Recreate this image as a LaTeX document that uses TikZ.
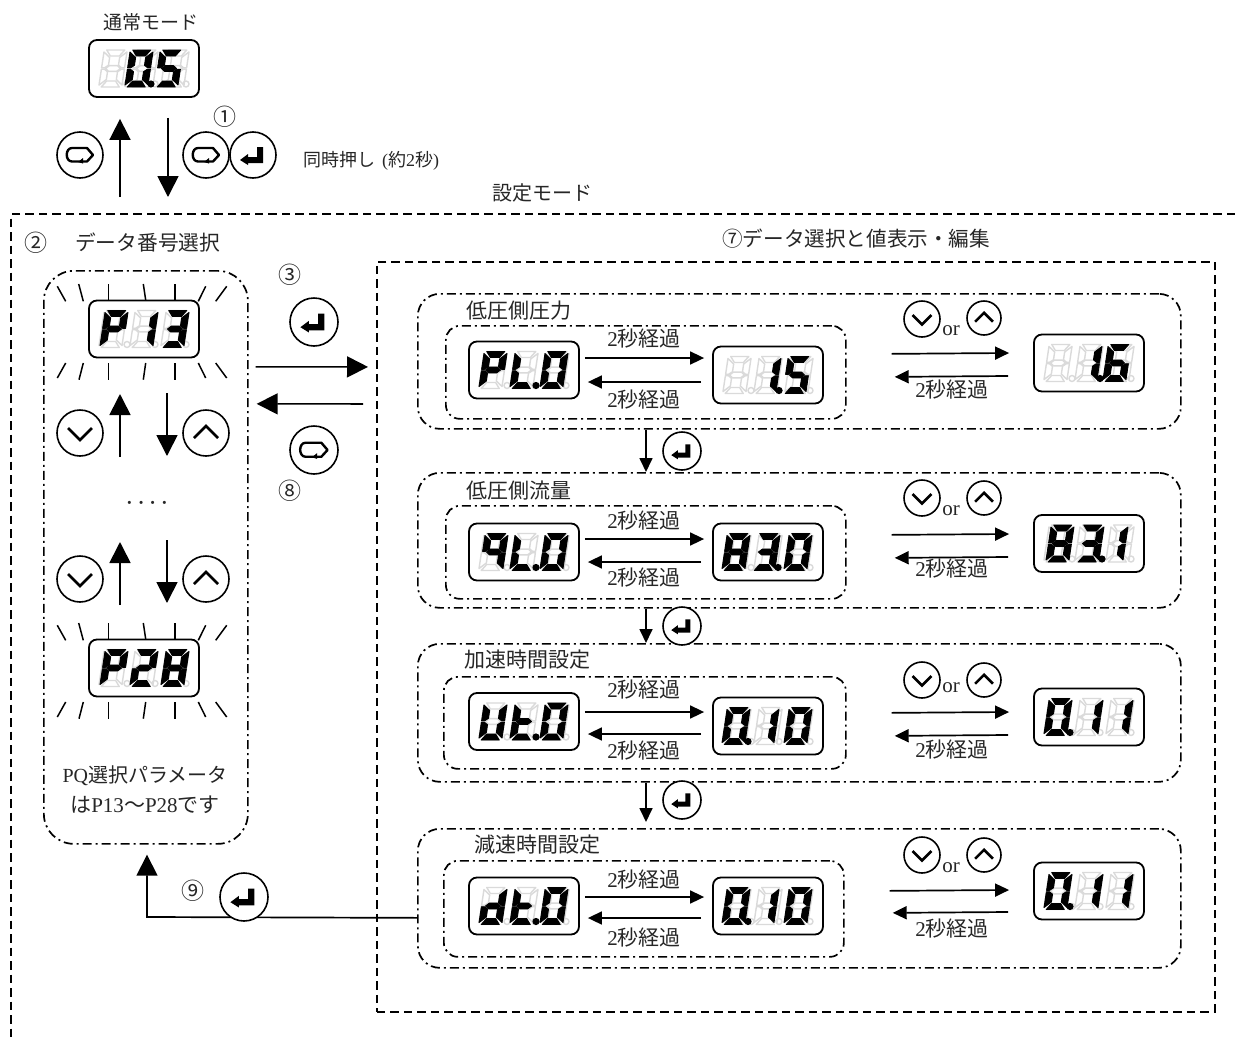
\documentclass[tikz,border=0pt]{standalone}
\usepackage{fontspec}
\usetikzlibrary{arrows.meta,calc}
\setmainfont{Liberation Serif}
\newfontfamily\jp{Noto Sans CJK JP}
% ---- seven-segment glyphs
\newcommand\defseg[2]{\expandafter\def\csname lcdseg#1\endcsname##1{\path[##1] #2 -- cycle;}}
\defseg{a}{(-9,-18.5)--(9,-18.5)--(4.5,-12.5)--(-4.5,-12.5)}
\defseg{d}{(-9,18.5)--(9,18.5)--(4.5,12.5)--(-4.5,12.5)}
\defseg{f}{(-11.5,-16.5)--(-5,-11)--(-5,-3.2)--(-8.5,-.7)--(-11.5,-.7)}
\defseg{b}{(11.5,-16.5)--(5,-11)--(5,-3.2)--(8.5,-.7)--(11.5,-.7)}
\defseg{e}{(-11.5,16.5)--(-5,11)--(-5,3.2)--(-8.5,.7)--(-11.5,.7)}
\defseg{c}{(11.5,16.5)--(5,11)--(5,3.2)--(8.5,.7)--(11.5,.7)}
\defseg{g}{(-7.5,0)--(-4,-2.9)--(4,-2.9)--(7.5,0)--(4,2.9)--(-4,2.9)}
\def\glyphP{a,b,e,f,g}
\def\glyphL{d,e,f}
\def\glyphO{a,b,c,d,e,f}
\def\glyphI{b,c}
\def\glyphB{a,b,d,e,g}
\def\glyphC{a,b,c,d,g}
\def\glyphS{a,c,d,f,g}
\def\glyphG{a,c,d,e,f,g}
\def\glyphH{a,b,c,d,e,f,g}
\def\glyphQ{a,b,c,f,g}
\def\glyphT{d,e,f,g}
\def\glyphU{b,c,d,e,f}
\def\glyphD{b,c,d,e,g}
\tikzset{
  lcdbox/.style={draw,line width=1.8pt,rounded corners=8pt,minimum width=110pt,minimum height=57pt,inner sep=0pt,fill=white},
  ghostseg/.style={draw=lcdghost,line width=1.4pt,line join=round},
  blackseg/.style={fill=black,draw=black,line width=.9pt,line join=round},
  panel/.style={draw,line width=1.7pt,rounded corners=22pt,dash pattern=on 9pt off 4pt on 2pt off 4pt,anchor=north west,inner sep=0pt},
  frameline/.style={draw,line width=1.8pt,dash pattern=on 8.5pt off 5pt},
  innerframe/.style={frameline,anchor=north west,inner sep=0pt},
  btn/.style={draw,circle,line width=1.6pt,inner sep=0pt,fill=white},
  bigarr/.style={line width=1.7pt,-{Triangle[length=21pt,width=21pt]}},
  smallarr/.style={line width=1.7pt,-{Triangle[length=14pt,width=13pt]}},
  lbl/.style={inner sep=0pt,text=txt,font=\fontsize{21}{25}\selectfont},
  circnum/.style={inner sep=0pt,text=txt,font=\fontsize{23}{27}\selectfont},
  conn/.style={line width=1.7pt},
  ray/.style={line width=1.5pt}
}
\definecolor{lcdghost}{HTML}{DADADA}
\definecolor{txt}{HTML}{262626}
\newcommand\lcd[4]{%
  \node[lcdbox] (#1) at (#2,#3) {};
  \begin{scope}[shift={(#1.center)}]
    \foreach \dx/\ox in {-31/14,0/11,31/11}{
      \begin{scope}[shift={(\dx,0)},xslant=.15]
        \foreach \s in {a,b,c,d,e,f,g}{\csname lcdseg\s\endcsname{ghostseg}}
      \end{scope}
      \path[ghostseg] (\dx+\ox,15.5) circle (3);
    }
    \foreach \dx/\g/\dt in {#4}{
      \edef\seglist{\csname glyph\g\endcsname}
      \begin{scope}[shift={(\dx,0)},xslant=.15]
        \foreach \s in \seglist{\csname lcdseg\s\endcsname{blackseg}}
      \end{scope}
      \ifnum\dt=1 \fill (\dx+12,15.5) circle (3.6);\fi
    }
  \end{scope}}
\newcommand\btn[5]{%
  \node[btn,minimum size={2*#4 pt}] (#1) at (#2,#3) {};
  \begin{scope}[shift={(#1.center)},scale={#4/23}]
    \csname icon#5\endcsname
  \end{scope}}
\newcommand\iconenter{\fill (-13,5)--(-5,-1)--(-5,2)--(4,2)--(4,-8)--(10,-8)--(10,8)--(-5,8)--(-5,10)--cycle;}
\newcommand\iconreturn{\draw[line width=2.4pt,line join=round] (-8,-7)--(7,-7)--(13,0)--(7,6.5)--(-8,6.5) .. controls (-15,6.5) and (-15,-7) .. (-8,-7); \fill (-2,7)--(3,3)--(3,8.5)--cycle;}
\newcommand\icondown{\draw[line width=2.6pt,line join=miter] (-12,-5)--(0,7)--(12,-5);}
\newcommand\iconup{\draw[line width=2.6pt,line join=miter] (-12,5)--(0,-7)--(12,5);}
\newcommand\sectxt{{2}{\jp 秒経過}}
\newcommand\rays[1]{%
  \foreach \xa/\ya/\xb/\yb in {-86.7/-42.7/-78.3/-27.7,-65.3/-45/-60.7/-27.7,-35.7/-45/-35.7/-29,-.7/-45/1.7/-29,31/-45/31/-29,61.7/-42.7/54.3/-27.7,82.7/-42.7/71.7/-27.7,-78.3/34/-86.7/49,-60.7/34/-65/50.7,-35.7/34/-35.7/50.7,1.7/34/-.7/50.7,31/34/31/50.7,54.3/34/61.7/49,71.7/34/82.7/49}{
    \draw[ray] ($(#1.center)+(\xa,\ya)$) -- ($(#1.center)+(\xb,\yb)$);
  }}
\begin{document}
\begin{tikzpicture}[x=1pt,y=-1pt]
\useasboundingbox (0,0) rectangle (1235,1039);
% frames
\coordinate (oTL) at (11,214);
\coordinate (oTR) at (1235,214);
\coordinate (oBL) at (11,1039);
\draw[frameline] (oTR) -- (oTL) -- (oBL);
\node[innerframe,minimum width=838pt,minimum height=750pt] (edit) at (376,261) {};
\node[panel,rounded corners=30pt,minimum width=204pt,minimum height=573pt] (left) at (43,270) {};
% panels
\node[panel,minimum width=763pt,minimum height=135pt] (p1) at (417,293) {};
\node[panel,minimum width=763pt,minimum height=135pt] (p2) at (417,472) {};
\node[panel,minimum width=763pt,minimum height=138pt] (p3) at (417,643) {};
\node[panel,minimum width=763pt,minimum height=139pt] (p4) at (417,828) {};
\node[panel,rounded corners=14pt,minimum width=400pt,minimum height=93pt] (i1) at (445,325) {};
\node[panel,rounded corners=14pt,minimum width=400pt,minimum height=93pt] (i2) at (445,505) {};
\node[panel,rounded corners=14pt,minimum width=402pt,minimum height=92pt] (i3) at (443,676) {};
\node[panel,rounded corners=14pt,minimum width=400pt,minimum height=96pt] (i4) at (443,860) {};
% top
\node[lbl,font=\fontsize{19}{23}\selectfont] (tmode) at (151,22) {\jp 通常モード};
\lcd{n0}{144}{68.5}{-5/O/1,25/S/0}
\coordinate (ux) at (120,197);
\coordinate (dx) at (168,197);
\draw[bigarr] (ux) -- ($(ux |- n0.south)+(0,21)$);
\draw[bigarr] ($(dx |- n0.south)+(0,20)$) -- (dx);
\btn{b0}{80}{155}{23}{return}
\btn{b1}{206}{155}{23}{return}
\btn{b2}{253}{155}{23}{enter}
\node[circnum] (c1) at (225,117) {\jp ①};
\node[lbl,font=\fontsize{18}{22}\selectfont,anchor=west] (tsim) at (303,161) {\jp 同時押し\hspace{7pt}{\rmfamily(}約{\rmfamily 2}秒{\rmfamily)}};
\node[lbl,font=\fontsize{20}{24}\selectfont] (tset) at (542,193) {\jp 設定モード};
\node[circnum] (c2) at (36,243) {\jp ②};
\node[lbl,font=\fontsize{20.7}{24}\selectfont,anchor=west] (tsel) at (75,243) {\jp データ番号選択};
\node[lbl,font=\fontsize{20.6}{24}\selectfont,anchor=west] (tedit) at (722,239) {\jp ⑦データ選択と値表示・編集};
% left column
\lcd{l1}{144}{329}{-30/P/0,0/I/0,31/C/0}
\rays{l1}
\coordinate (lu) at (120,457);
\coordinate (ld) at (167,393);
\draw[bigarr] (lu) -- ++(0,-63);
\draw[bigarr] (ld) -- ++(0,63);
\btn{bd1}{80}{433}{23}{down}
\btn{bu1}{206}{433}{23}{up}
\node[lbl,font=\fontsize{26}{30}\selectfont] (dots) at (147,506) {·\hspace{3pt}·\hspace{3pt}·\hspace{3pt}·};
\coordinate (lu2) at (120,605);
\coordinate (ld2) at (167,540);
\draw[bigarr] (lu2) -- ++(0,-63);
\draw[bigarr] (ld2) -- ++(0,63);
\btn{bd2}{80}{579}{23}{down}
\btn{bu2}{206}{579}{23}{up}
\lcd{l2}{144}{668}{-30/P/0,0/B/0,31/H/0}
\rays{l2}
\node[lbl,font=\fontsize{20}{24}\selectfont] (tpq1) at (145,776) {PQ{\jp 選択パラメータ}};
\node[lbl,font=\fontsize{21}{25}\selectfont] (tpq2) at (145,805) {{\jp は}P13{\jp ～}P28{\jp です}};
% between left and right
\btn{be}{314}{322}{24}{enter}
\btn{br}{314}{450}{24}{return}
\node[circnum] (c3) at (290,275) {\jp ③};
\node[circnum] (c8) at (290,491) {\jp ⑧};
\draw[bigarr] ($(left.east)+(7,-190.5)$) -- ($(edit.west)+(-8,-270)$);
\draw[bigarr] ($(edit.west)+(-13,-233)$) -- ($(left.east)+(8,-153.5)$);
% row 1
\node[lbl] (h1) at (519,311) {\jp 低圧側圧力};
\lcd{a1}{524}{370}{-31/P/0,0/L/1,30/O/0}
\lcd{b1}{768}{375}{-1/I/1,29/S/0}
\lcd{c1r}{1089}{363}{-1/I/1,28/G/0}
\draw[smallarr] ($(a1.east)+(5,-12)$) -- ($(b1.west)+(-8,-17)$);
\draw[smallarr] ($(b1.west)+(-11,7)$) -- ($(a1.east)+(8,12)$);
\node[lbl] (s1a) at (644,339) {\sectxt};
\node[lbl] (s1b) at (644,400) {\sectxt};
\draw[smallarr] ($(i1.east)+(45,-18.5)$) -- ($(c1r.west)+(-24,-10)$);
\draw[smallarr] ($(c1r.west)+(-25,13)$) -- ($(i1.east)+(48,4.5)$);
\node[lbl] (s1c) at (952,390) {\sectxt};
\btn{x1}{922}{319}{18}{down}
\node[lbl] (o1) at (951,331) {or};
\btn{y1}{984}{318}{17}{up}
% row 2
\node[lbl] (h2) at (519,491) {\jp 低圧側流量};
\lcd{a2}{524}{552}{-30/Q/0,0/L/1,30/O/0}
\lcd{b2}{768}{552}{-32/H/0,-2/C/1,30/O/0}
\lcd{c2r}{1089}{543.5}{-29/H/0,1/C/1,25/I/0}
\draw[smallarr] ($(a2.east)+(5,-13)$) -- ($(b2.west)+(-8,-13)$);
\draw[smallarr] ($(b2.west)+(-11,10)$) -- ($(a2.east)+(8,10)$);
\node[lbl] (s2a) at (644,521) {\sectxt};
\node[lbl] (s2b) at (644,578) {\sectxt};
\draw[smallarr] ($(i2.east)+(45,-17.5)$) -- ($(c2r.west)+(-24,-9.5)$);
\draw[smallarr] ($(c2r.west)+(-25,13.5)$) -- ($(i2.east)+(48,5.5)$);
\node[lbl] (s2c) at (952,569) {\sectxt};
\btn{x2}{922}{498}{18}{down}
\node[lbl] (o2) at (951,511) {or};
\btn{y2}{984}{498}{17}{up}
% row 3
\node[lbl] (h3) at (527,660) {\jp 加速時間設定};
\lcd{a3}{524}{721.5}{-31/U/0,0/T/1,30/O/0}
\lcd{b3}{768}{726}{-32/O/1,-3/I/0,30/O/0}
\lcd{c3r}{1089}{717}{-31/O/1,0/I/0,30/I/0}
\draw[smallarr] ($(a3.east)+(5,-9.5)$) -- ($(b3.west)+(-8,-14)$);
\draw[smallarr] ($(b3.west)+(-11,8)$) -- ($(a3.east)+(8,12.5)$);
\node[lbl] (s3a) at (644,690) {\sectxt};
\node[lbl] (s3b) at (644,751) {\sectxt};
\draw[smallarr] ($(i3.east)+(45,-10)$) -- ($(c3r.west)+(-24,-5)$);
\draw[smallarr] ($(c3r.west)+(-25,18)$) -- ($(i3.east)+(48,13)$);
\node[lbl] (s3c) at (952,750) {\sectxt};
\btn{x3}{922}{680}{18}{down}
\node[lbl] (o3) at (951,688) {or};
\btn{y3}{984}{680}{17}{up}
% row 4
\node[lbl] (h4) at (537,845) {\jp 減速時間設定};
\lcd{a4}{524}{906}{-31/D/0,0/T/1,30/O/0}
\lcd{b4}{768}{906}{-32/O/1,-3/I/0,30/O/0}
\lcd{c4r}{1089}{891}{-31/O/1,0/I/0,30/I/0}
\draw[smallarr] ($(a4.east)+(5,-9)$) -- ($(b4.west)+(-8,-9)$);
\draw[smallarr] ($(b4.west)+(-11,12)$) -- ($(a4.east)+(8,12)$);
\node[lbl] (s4a) at (644,880) {\sectxt};
\node[lbl] (s4b) at (644,938) {\sectxt};
\draw[smallarr] ($(i4.east)+(45,-18)$) -- ($(c4r.west)+(-24,-1)$);
\draw[smallarr] ($(c4r.west)+(-25,21)$) -- ($(i4.east)+(48,4)$);
\node[lbl] (s4c) at (952,929) {\sectxt};
\btn{x4}{922}{855}{18}{down}
\node[lbl] (o4) at (951,868) {or};
\btn{y4}{984}{855}{17}{up}
% vertical connectors
\coordinate (vx) at (646,0);
\draw[smallarr] (p1.south -| vx) -- (p2.north -| vx);
\draw[smallarr] (p2.south -| vx) -- (p3.north -| vx);
\draw[smallarr] (p3.south -| vx) -- ($(p4.north -| vx)+(0,-6)$);
\btn{n1}{682}{451}{19}{enter}
\btn{n2}{682}{626}{19}{enter}
\btn{n3}{682}{800}{19}{enter}
% return
\coordinate (bk) at (147,917);
\draw[bigarr] ($(p4.west)+(0,19.5)$) -- (bk) -- ($(left.south -| bk)+(0,10)$);
\node[circnum] (c9) at (193,891) {\jp ⑨};
\btn{bz}{244}{897}{24}{enter}
\end{tikzpicture}
\end{document}
